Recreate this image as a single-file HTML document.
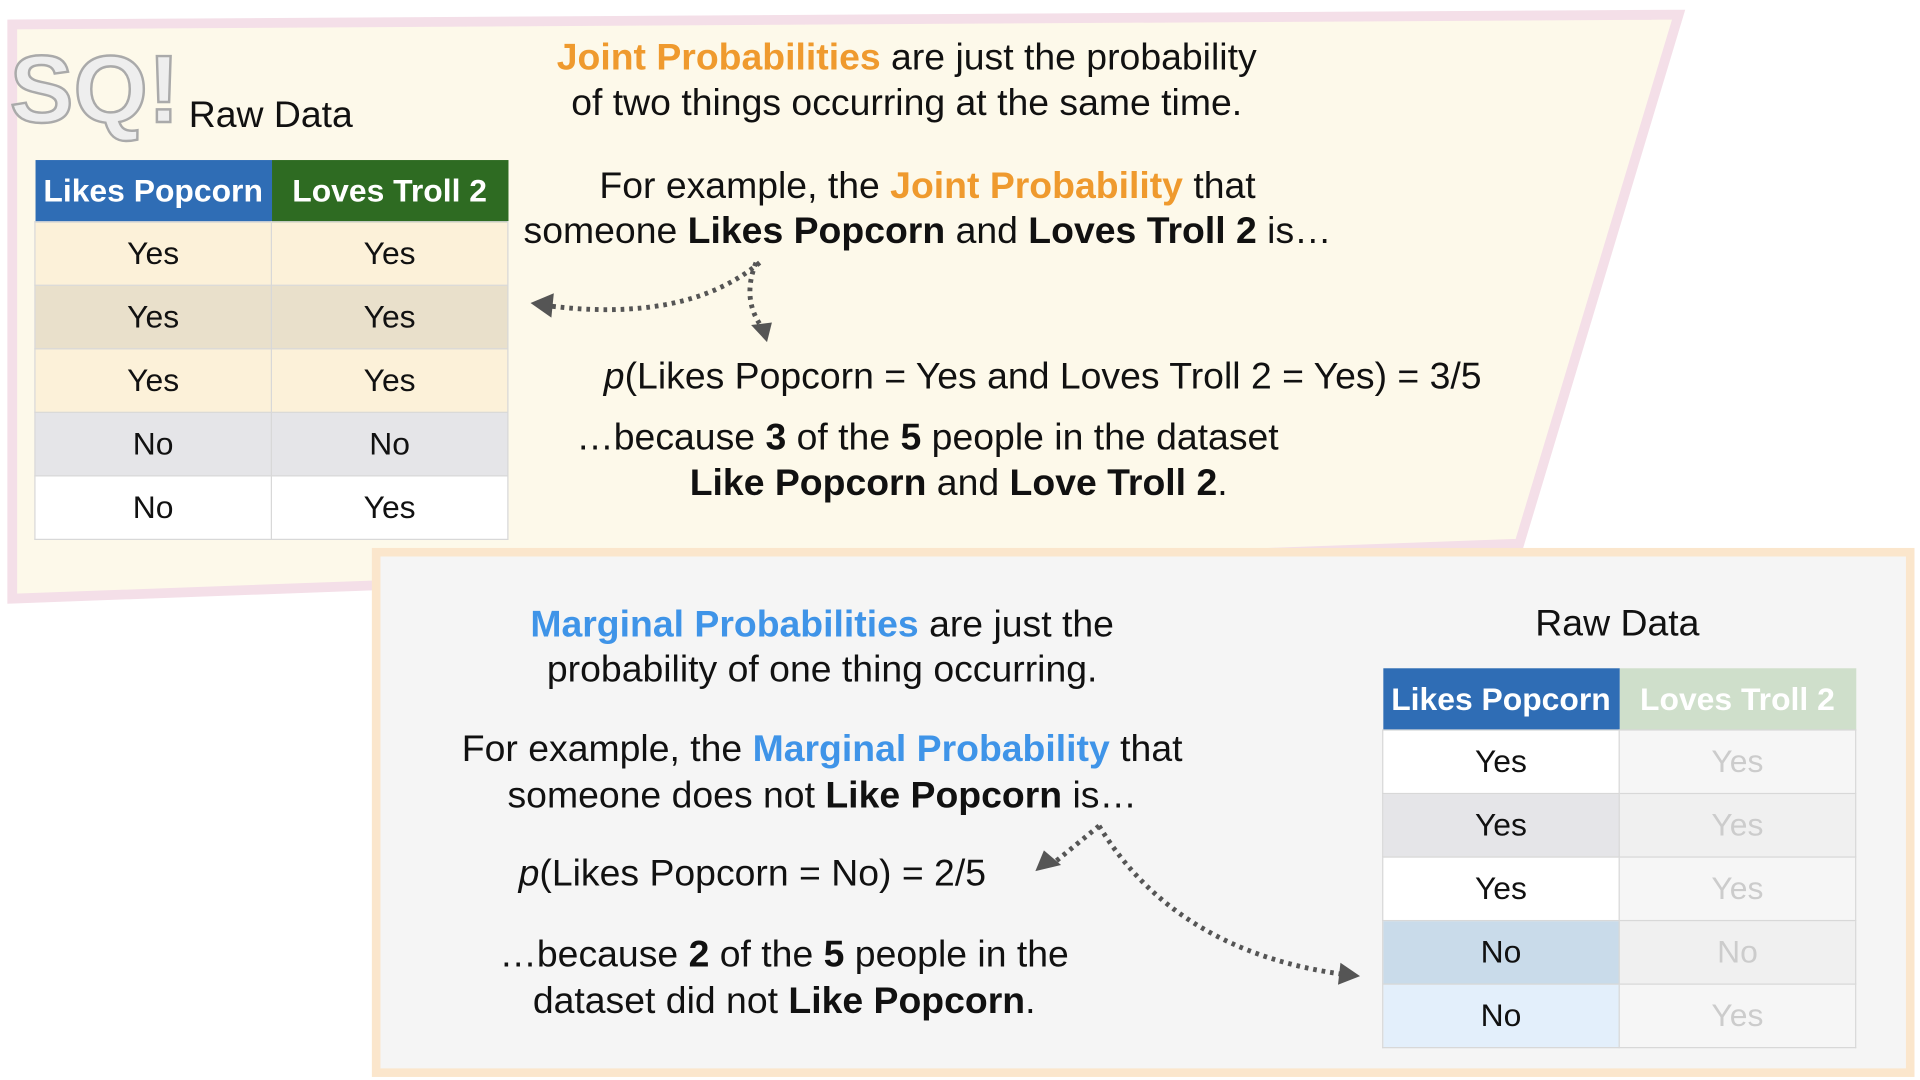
<!DOCTYPE html>
<html><head><meta charset="utf-8"><style>
html,body{margin:0;padding:0;width:1920px;height:1080px;overflow:hidden;background:#fff}
#stage{position:absolute;left:0;top:0;width:1567px;height:884px;transform-origin:0 0;transform:scale(1.22527,1.22172);font-family:"Liberation Sans",sans-serif;color:#111}
.t{position:absolute;white-space:nowrap;font-size:30.5px;line-height:37px;text-align:center;transform:translateX(-50%)}
.o{color:#ef9a2e;font-weight:bold}
.b{color:#3f94e8;font-weight:bold}
b{font-weight:bold}
table{position:absolute;border-collapse:collapse;font-size:26px}
td{width:192px;height:51px;text-align:center;padding:0;border:1px solid #d8d8d8}
th{width:192px;height:50px;color:#fff;font-weight:bold;padding:0;font-size:26px}
</style></head><body>
<div id="stage">
<svg width="1567" height="884" style="position:absolute;left:0;top:0">
<polygon points="10,20 1370,12 1240,445 10,490" fill="#fdf9ea" stroke="#f4dfe8" stroke-width="8"/>
<rect x="307" y="452" width="1252" height="426" fill="#f5f5f5" stroke="#fbe6cc" stroke-width="7"/>
<g stroke="#555" stroke-width="4" stroke-dasharray="3,4" fill="none">
<path d="M620,215 Q560,265 445,250"/>
<path d="M617,215 Q605,245 622,268"/>
<path d="M897,676 Q880,690 858,708"/>
<path d="M897,676 Q960,780 1100,798"/>
</g>
<g fill="#555">
<polygon points="433,248 452,240 450,260"/>
<polygon points="626,280 613,266 630,264"/>
<polygon points="845,713 852,696 866,708"/>
<polygon points="1110,799 1094,788 1092,806"/>
</g>
<text x="8" y="100" font-family="Liberation Sans" font-size="78" font-weight="bold" fill="#eee" stroke="#aaa" stroke-width="2">SQ!</text>
</svg>
<div class="t" style="left:221px;top:76px">Raw Data</div>
<table style="left:28px;top:131px">
<tr><th style="background:#2f6db5">Likes Popcorn</th><th style="background:#2e6b22">Loves Troll 2</th></tr>
<tr style="background:#fcf1d9"><td>Yes</td><td>Yes</td></tr>
<tr style="background:#e9e0cb"><td>Yes</td><td>Yes</td></tr>
<tr style="background:#fcf1d9"><td>Yes</td><td>Yes</td></tr>
<tr style="background:#e5e5e8"><td>No</td><td>No</td></tr>
<tr style="background:#fff"><td>No</td><td>Yes</td></tr>
</table>
<div class="t" style="left:740px;top:29px"><span class="o">Joint Probabilities</span> are just the probability<br>of two things occurring at the same time.</div>
<div class="t" style="left:757px;top:134px">For example, the <span class="o">Joint Probability</span> that<br>someone <b>Likes Popcorn</b> and <b>Loves Troll 2</b> is…</div>
<div class="t" style="left:851px;top:290px"><i>p</i>(Likes Popcorn = Yes and Loves Troll 2 = Yes) = 3/5</div>
<div class="t" style="left:757px;top:340px">…because <b>3</b> of the <b>5</b> people in the dataset<br>&nbsp;&nbsp;&nbsp;&nbsp;&nbsp;&nbsp;<b>Like Popcorn</b> and <b>Love Troll 2</b>.</div>
<div class="t" style="left:671px;top:493px"><span class="b">Marginal Probabilities</span> are just the<br>probability of one thing occurring.</div>
<div class="t" style="left:671px;top:594px;line-height:38px">For example, the <span class="b">Marginal Probability</span> that<br>someone does not <b>Like Popcorn</b> is…</div>
<div class="t" style="left:614px;top:697px"><i>p</i>(Likes Popcorn = No) = 2/5</div>
<div class="t" style="left:640px;top:762px;line-height:38px">…because <b>2</b> of the <b>5</b> people in the<br>dataset did not <b>Like Popcorn</b>.</div>
<div class="t" style="left:1320px;top:492px">Raw Data</div>
<table style="left:1128px;top:547px">
<tr><th style="background:#2f6db5">Likes Popcorn</th><th style="background:#cfdfcb">Loves Troll 2</th></tr>
<tr><td style="background:#fff">Yes</td><td style="background:#f6f6f6;color:#ccc">Yes</td></tr>
<tr><td style="background:#e5e5e8">Yes</td><td style="background:#f0f0f0;color:#ccc">Yes</td></tr>
<tr><td style="background:#fff">Yes</td><td style="background:#f6f6f6;color:#ccc">Yes</td></tr>
<tr><td style="background:#c9dbea">No</td><td style="background:#f0f0f0;color:#ccc">No</td></tr>
<tr><td style="background:#e3effb">No</td><td style="background:#f6f6f6;color:#ccc">Yes</td></tr>
</table>
</div>
</body></html>
